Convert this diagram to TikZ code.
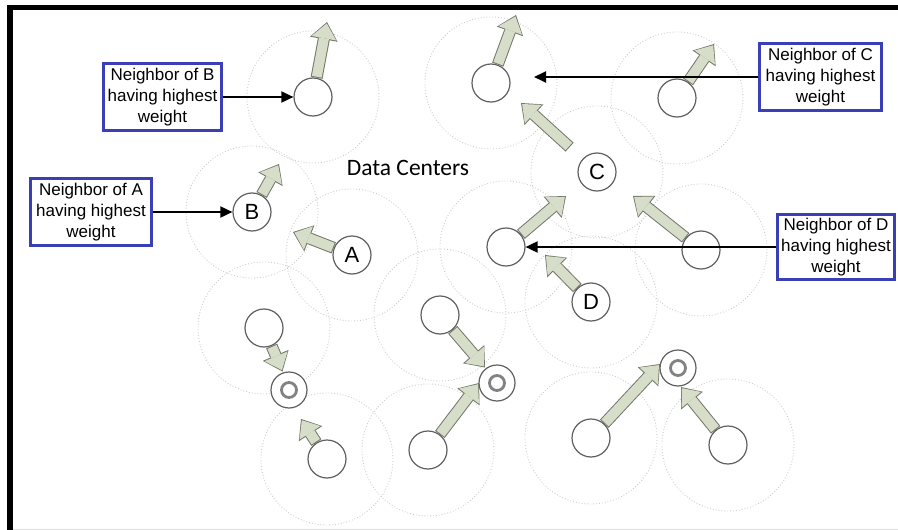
\documentclass[tikz,border=0pt]{standalone}
\usepackage{fontspec}
\setmainfont{Liberation Sans}
\newfontfamily\titlefont{Carlito}
\usetikzlibrary{arrows.meta,calc,backgrounds}

\definecolor{boxblue}{RGB}{59,63,182}
\definecolor{arrowfill}{RGB}{214,221,200}
\definecolor{arrowline}{RGB}{115,120,105}
\definecolor{nodegray}{RGB}{95,95,95}
\definecolor{ringgray}{RGB}{130,130,130}

\begin{document}
\begin{tikzpicture}[x=1pt,y=-1pt,>={Triangle[length=12pt,width=11pt]},
    dc/.style={circle,draw=nodegray,line width=1.2pt,fill=white,minimum size=38pt,inner sep=0pt,font=\fontsize{22}{22}\selectfont},
    target/.style={dc,minimum size=36pt,path picture={\draw[ringgray,line width=2.8pt] (path picture bounding box.center) circle (7.5pt);}},
    zone/.style={draw=gray!40,dotted,line width=0.9pt},
    fat/.style={draw=arrowfill,line width=10pt,shorten <=1pt,shorten >=1.5pt,
      -{Triangle[width=25pt,length=15pt,line width=0pt]},
      preaction={draw=arrowline,line width=12pt,shorten <=0pt,shorten >=0pt,
        -{Triangle[width=28pt,length=17.5pt,line width=0pt]}}},
    nbox/.style={draw=boxblue,line width=3pt,fill=white,align=center,inner sep=3pt,
      minimum height=67pt,font=\fontsize{17}{21}\selectfont},
    pointer/.style={->,line width=1.8pt}]

  \useasboundingbox (0,0) rectangle (898,530);
  % frame
  \draw[line width=5.5pt] (10,540) |- (905,7.5);
  \draw[gray!25,line width=1pt] (13,529) -- (898,529);

  % data centers
  \node[dc] (NB)  at (313,97)  {};
  \node[dc] (NC)  at (491,83)  {};
  \node[dc] (TR)  at (677,98)  {};
  \node[dc] (B)   at (252,212) {B};
  \node[dc] (A)   at (352,255) {A};
  \node[dc] (C)   at (597,172) {C};
  \node[dc] (ND)  at (506,247) {};
  \node[dc] (R)   at (701,250) {};
  \node[dc] (D)   at (591,302) {D};
  \node[dc] (L1)  at (264,328) {};
  \node[dc] (L2)  at (327,459) {};
  \node[dc] (M1)  at (440,315) {};
  \node[dc] (M2)  at (428,450) {};
  \node[dc] (BR1) at (591,438) {};
  \node[dc] (BR2) at (728,445) {};
  \node[target] (T1) at (289,390) {};
  \node[target] (T2) at (497,383) {};
  \node[target] (T3) at (678,368) {};

  \node[font=\titlefont\fontsize{23.5}{23.5}\selectfont] (title) at (408,168) {Data Centers};

  % ranges
  \begin{scope}[on background layer]
    \foreach \n in {NB,NC,TR,B,A,C,ND,R,D,L1,L2,M1,M2,BR1,BR2}
      \draw[zone] (\n) circle (66pt);
  \end{scope}

  % where each one moves
  \coordinate (tNB)  at (327,22);
  \coordinate (tNC)  at (516,15);
  \coordinate (tTR)  at (714,44);
  \coordinate (tB)   at (279,164);
  \coordinate (tA)   at (293,232);
  \coordinate (tC)   at (521,103);
  \coordinate (tND)  at (566,196);
  \coordinate (tR)   at (633,196);
  \coordinate (tD)   at (545,255);
  \coordinate (tL1)  at (282.5,371.5);
  \coordinate (tL2)  at (301,419);
  \coordinate (tM1)  at (485,367.5);
  \coordinate (tM2)  at (479,383);
  \coordinate (tBR1) at (660,364);
  \coordinate (tBR2) at (681,387);

  \foreach \n in {NB,NC,TR,B,A,ND,R,D,L1,L2,M1,M2,BR1,BR2}
    \draw[fat] (\n) -- (t\n);
  \draw[fat] ($(C)!37pt!(tC)$) -- (tC);

  % labels
  \node[nbox,minimum width=118pt] (boxB) at (162.5,97) {Neighbor of B\\having highest\\weight};
  \node[nbox,minimum width=121pt] (boxA) at (91,212) {Neighbor of A\\having highest\\weight};
  \node[nbox,minimum width=122pt] (boxC) at (820.5,77) {Neighbor of C\\having highest\\weight};
  \node[nbox,minimum width=117pt,minimum height=65pt] (boxD) at (836,247) {Neighbor of D\\having highest\\weight};
  \coordinate (pC) at (534,77);

  \draw[pointer] (boxB) -- (NB);
  \draw[pointer] (boxA) -- (B);
  \draw[pointer] (boxC) -- (pC);
  \draw[pointer] (boxD) -- (ND);
\end{tikzpicture}
\end{document}
